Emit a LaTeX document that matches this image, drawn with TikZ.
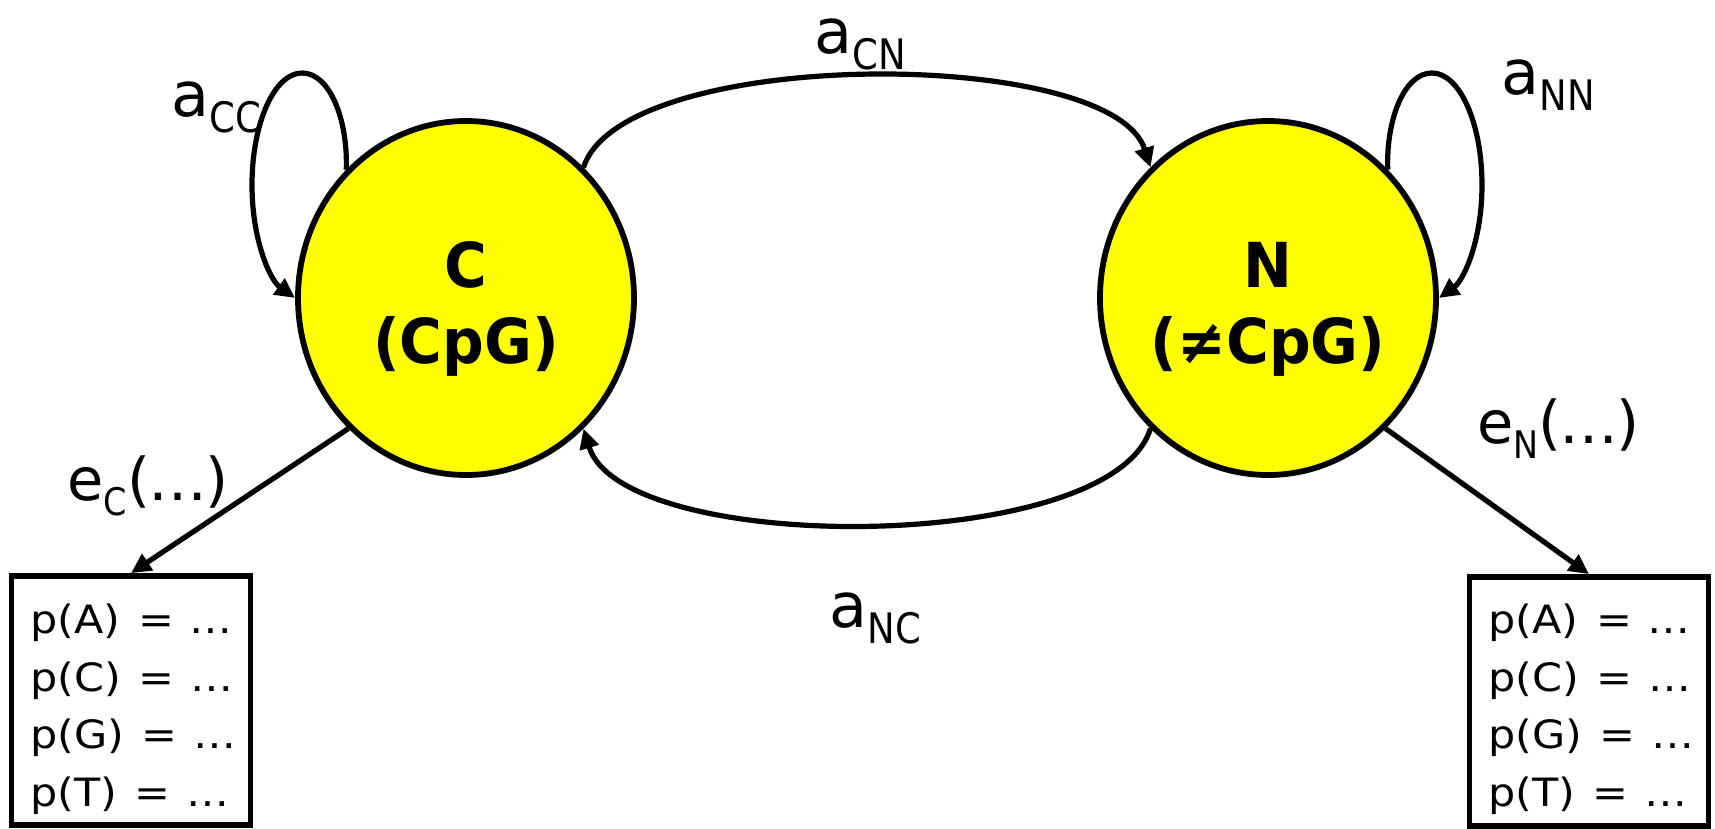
\documentclass[tikz,border=0pt]{standalone}
\usepackage{fontspec}
\setmainfont{DejaVu Sans}
\newfontfamily\subfont[FakeStretch=0.88]{DejaVu Sans}
\newfontfamily\boxfont[FakeStretch=1.1]{DejaVu Sans}
\newfontfamily\statefont[FakeStretch=0.94]{DejaVu Sans Bold}
\usetikzlibrary{shapes.geometric,arrows.meta}
\definecolor{stateyellow}{RGB}{255,255,0}

% transition label a_{XY}
\newcommand\translab[2]{{\fontsize{31}{31}\selectfont #1}\raisebox{-8pt}{\subfont\fontsize{21}{21}\selectfont #2}}
% emission label e_X(...)
\newcommand\emitlab[1]{{\fontsize{29.5}{30}\selectfont e}\raisebox{-7.5pt}{\subfont\fontsize{19}{19}\selectfont #1}{\fontsize{29.5}{30}\selectfont(\kern-1pt…\kern-1pt)}}

\begin{document}
\begin{tikzpicture}[x=0.5pt,y=-0.5pt,
  state/.style={ellipse, draw, line width=2.9pt, fill=stateyellow,
    minimum width=168pt, minimum height=177pt, inner sep=0pt},
  statelabel/.style={anchor=base, inner sep=0pt, font=\statefont\fontsize{31}{31}\selectfont},
  probbox/.style={draw, line width=2.9pt, minimum width=119.5pt, minimum height=124.5pt, inner sep=0pt},
  probline/.style={anchor=base west, inner sep=0pt, font=\boxfont\fontsize{19.5}{19.5}\selectfont},
  edgelabel/.style={anchor=base west, inner sep=0pt},
  link/.style={line width=2.6pt, -{Triangle[length=10pt,width=9.5pt]}}
]
\useasboundingbox (0,0) rectangle (1715,829);

% the two hidden states
\node[state] (C) at (466,298) {};
\node[state] (N) at (1268,298) {};
\node[statelabel] (Cname) at (466,287) {C};
\node[statelabel] (Cdesc) at (466,363) {(CpG)};
\node[statelabel] (Nname) at (1268,287) {N};
\node[statelabel] (Ndesc) at (1268,363) {(≠CpG)};

% emission tables
\node[probbox] (EC) at (131,700.5) {};
\node[probbox] (EN) at (1589,701.5) {};
\foreach \s/\yy in {A/633,C/691,G/748,T/806} {
  \node[probline] (pC\s) at (30,\yy) {p(\s)\kern2pt{} = \kern1pt…};
  \node[probline] (pN\s) at (1488,\yy) {p(\s)\kern2pt{} = \kern1pt…};
}

% self loops
\draw[link] (C.133) .. controls (348,120) and (330,73) .. (302,73)
  .. controls (274.4,73) and (252,123) .. (252,185)
  .. controls (252,240) and (270,280) .. (C.west);
\draw[link] (N.47) .. controls (1386,120) and (1404,73) .. (1432,73)
  .. controls (1459.6,73) and (1482,123) .. (1482,185)
  .. controls (1482,240) and (1464,280) .. (N.east);

% transitions between the states
\draw[link] (C.48) .. controls (622,46) and (1112,46) .. (N.132);
\draw[link] (N.228) .. controls (1112,556) and (622,556) .. (C.312);

% emissions
\draw[link] (C.228) -- (EC.north);
\draw[link] (N.312) -- (EN.north);

% labels
\node[edgelabel] (aCC) at (171,117) {\translab{a}{CC}};
\node[edgelabel] (aCN) at (814,54) {\translab{a}{CN}};
\node[edgelabel] (aNN) at (1501,95) {\translab{a}{NN}};
\node[edgelabel] (aNC) at (829,627) {\translab{a}{NC}};
\node[edgelabel] (eC) at (67,500) {\emitlab{C}};
\node[edgelabel] (eN) at (1477,443) {\emitlab{N}};
\end{tikzpicture}
\end{document}
